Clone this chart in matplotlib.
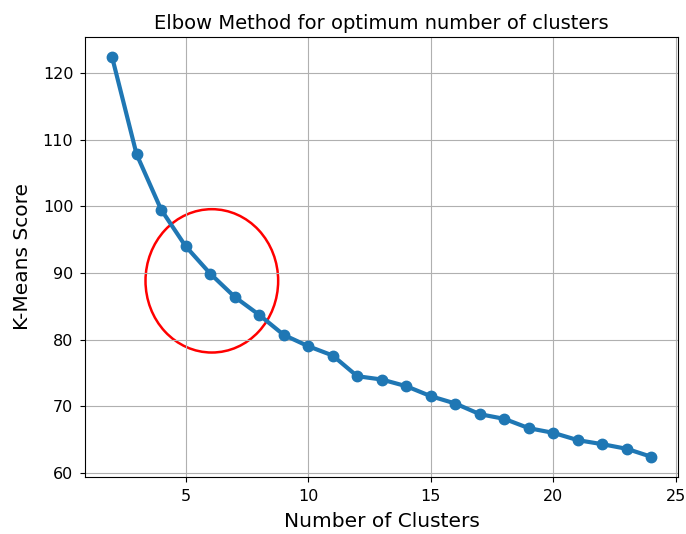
import matplotlib
matplotlib.use("Agg")
import matplotlib.pyplot as plt
from matplotlib.patches import Ellipse

clusters = list(range(2, 25))
scores = [122.4, 107.8, 99.5, 94.0, 89.9, 86.4, 83.7, 80.7, 79.0, 77.6, 74.5,
          74.0, 73.0, 71.5, 70.4, 68.8, 68.1, 66.7, 66.0, 64.9, 64.3, 63.6, 62.4]

fig = plt.figure(figsize=(6.86, 5.34), dpi=100)
ax = fig.add_axes([0.124, 0.107, 0.865, 0.824])
ax.plot(clusters, scores, marker='o', linewidth=3, markersize=7.5, color='#1f77b4')
ax.add_patch(Ellipse((6.07, 88.8), 5.41, 21.5, fill=False, edgecolor='red', linewidth=1.8))
ax.grid(True)
ax.set_title("Elbow Method for optimum number of clusters", fontsize=14)
ax.set_xlabel("Number of Clusters", fontsize=14.5, labelpad=6)
ax.set_ylabel("K-Means Score", fontsize=14.5, labelpad=8)
ax.tick_params(labelsize=11.5, pad=5)
fig.savefig("out.png", dpi=100)
